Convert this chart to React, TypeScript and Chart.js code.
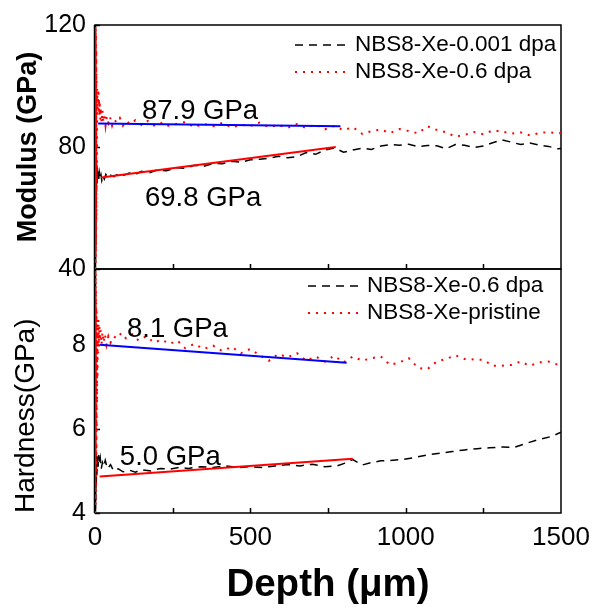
import React, { useEffect, useRef } from "react";
import { Chart, registerables } from "chart.js";

Chart.register(...registerables);

// ---------- tick labels ----------
const depthTicks = [0, 500, 1000, 1500];
const depthMinorTicks = [250, 500, 750, 1000, 1250];
const modulusTicks = [40, 80, 120];
const hardnessTicks = [4, 6, 8];

// ---------- legends / labels ----------
const modulusLegend = ["NBS8-Xe-0.001 dpa", "NBS8-Xe-0.6 dpa"];
const hardnessLegend = ["NBS8-Xe-0.6 dpa", "NBS8-Xe-pristine"];
const fitLabels = ["87.9 GPa", "69.8 GPa", "8.1 GPa", "5.0 GPa"];

// ---------- Modulus: NBS8-Xe-0.001 dpa (black dashed) ----------
const modBlackDepth = [0.5, 1, 1.5, 2, 2.5, 3, 3.5, 4, 5, 6, 7, 8, 9, 10, 12, 14, 16, 19, 22, 26, 30, 35, 40, 50, 60, 75, 90, 110, 130, 150, 175, 200, 230, 260, 290, 320, 350, 380, 410, 440, 470, 500, 530, 560, 590, 620, 650, 680, 710, 740, 770, 800, 830, 860, 890, 920, 950, 980, 1010, 1040, 1070, 1100, 1130, 1160, 1190, 1220, 1250, 1280, 1310, 1340, 1370, 1400, 1430, 1460, 1490, 1500];
const modBlackValue = [40, 62, 42, 70, 48, 76, 55, 78, 66, 74, 68, 73, 70, 72, 69.5, 71.5, 70, 71, 69, 70.5, 69.5, 71, 70, 70.8, 70.3, 71.2, 70.6, 71.5, 71, 72, 71.5, 72.5, 72.2, 73.2, 73, 74, 73.7, 74.6, 74.5, 75.3, 75, 75.8, 76, 76.3, 77, 76.5, 76.8, 78.2, 77.6, 79, 79.7, 78.3, 79, 79.6, 79.2, 80.3, 80.8, 80.6, 80.9, 80.1, 80.5, 80.4, 79.4, 80.8, 80.6, 79.8, 80.3, 81.4, 82.3, 81.6, 80.8, 81.3, 80.6, 80.2, 79.4, 79.5];

// ---------- Modulus: NBS8-Xe-0.6 dpa (red dotted) ----------
const modRedDepth = [0.5, 1, 1.5, 2, 2.5, 3, 3.5, 4, 4.5, 5, 6, 7, 8, 9, 10, 11, 12, 13, 14, 15, 17, 19, 21, 24, 27, 30, 34, 38, 43, 48, 55, 62, 70, 80, 90, 100, 115, 130, 150, 170, 190, 210, 230, 260, 290, 320, 350, 380, 410, 440, 470, 500, 530, 560, 590, 620, 650, 680, 710, 740, 770, 800, 830, 860, 890, 920, 950, 980, 1010, 1040, 1070, 1100, 1130, 1160, 1190, 1220, 1250, 1280, 1310, 1340, 1370, 1400, 1430, 1460, 1490, 1500];
const modRedValue = [40, 121, 42, 119, 44, 117, 48, 112, 56, 104, 70, 99, 92, 98, 94, 99, 91, 96, 90, 95, 89, 93, 88, 92, 88, 91, 87, 90, 88, 90, 87, 89, 88, 89.5, 87, 88.5, 87.5, 88.8, 87.2, 88.5, 87, 88, 86.8, 87.5, 88.2, 86.5, 87.6, 86.8, 87.9, 86.4, 87.3, 86.9, 88, 86.5, 87.2, 86.3, 87.5, 86.2, 87.4, 85.8, 86.9, 85.5, 86.5, 84.3, 85.2, 85.7, 84.6, 85.9, 85.2, 84.5, 86.8, 85.6, 84.8, 83.4, 84, 84.9, 84.2, 85.4, 85.1, 84.4, 84.8, 83.8, 84.6, 84.9, 84.4, 84.6];

// ---------- Modulus fits ----------
const modFitBlueDepth = [10, 790];
const modFitBlueValue = [87.7, 86.8];
const modFitRedDepth = [20, 775];
const modFitRedValue = [70.0, 80.0];

// ---------- Hardness: NBS8-Xe-0.6 dpa (black dashed) ----------
const hardBlackDepth = [0.5, 1, 1.5, 2, 2.5, 3, 4, 5, 6, 8, 10, 12, 14, 17, 20, 24, 28, 33, 40, 50, 60, 75, 90, 110, 130, 150, 180, 210, 240, 270, 300, 340, 380, 420, 460, 500, 540, 580, 620, 660, 700, 740, 780, 810, 830, 860, 890, 920, 950, 990, 1030, 1070, 1110, 1150, 1190, 1230, 1270, 1310, 1350, 1390, 1430, 1470, 1500];
const hardBlackValue = [4, 4.9, 4.1, 5.2, 4.3, 5.4, 4.6, 5.3, 4.9, 5.35, 5.1, 5.38, 5.15, 5.3, 5.05, 5.2, 5.1, 5.25, 5.05, 5.15, 5.0, 5.05, 4.98, 5.02, 4.97, 5.03, 5.0, 5.06, 5.04, 5.08, 5.06, 5.1, 5.08, 5.12, 5.08, 5.1, 5.08, 5.12, 5.15, 5.12, 5.16, 5.1, 5.12, 5.2, 5.27, 5.14, 5.2, 5.24, 5.25, 5.27, 5.32, 5.38, 5.42, 5.46, 5.5, 5.53, 5.55, 5.57, 5.56, 5.66, 5.75, 5.82, 5.92];

// ---------- Hardness: NBS8-Xe-pristine (red dotted) ----------
const hardRedDepth = [0.5, 1, 1.5, 2, 2.5, 3, 3.5, 4, 4.5, 5, 5.5, 6, 6.5, 7, 8, 9, 10, 11, 12, 14, 16, 18, 21, 24, 28, 32, 37, 43, 50, 60, 70, 85, 100, 120, 140, 165, 190, 215, 240, 265, 290, 320, 350, 380, 410, 440, 470, 500, 530, 560, 590, 620, 650, 680, 710, 740, 770, 800, 830, 860, 890, 920, 950, 980, 1010, 1040, 1070, 1100, 1130, 1160, 1190, 1220, 1250, 1280, 1310, 1340, 1370, 1400, 1430, 1460, 1500];
const hardRedValue = [4, 9.8, 4.2, 9.7, 4.5, 9.3, 5.0, 9.0, 5.4, 8.8, 6.0, 8.6, 6.6, 8.5, 7.2, 8.4, 7.8, 8.6, 8.0, 8.45, 8.1, 8.35, 8.0, 8.3, 8.05, 8.25, 8.0, 8.2, 8.05, 8.2, 8.15, 8.28, 8.15, 8.25, 8.1, 8.2, 8.05, 8.12, 8.02, 8.1, 7.92, 8.02, 7.9, 7.98, 7.85, 7.95, 7.8, 7.9, 7.75, 7.62, 7.78, 7.7, 7.8, 7.62, 7.72, 7.6, 7.74, 7.58, 7.72, 7.62, 7.68, 7.72, 7.52, 7.58, 7.68, 7.45, 7.42, 7.6, 7.66, 7.75, 7.66, 7.65, 7.64, 7.5, 7.5, 7.52, 7.6, 7.5, 7.58, 7.6, 7.5];

// ---------- Hardness fits ----------
const hardFitBlueDepth = [15, 810];
const hardFitBlueValue = [8.0, 7.57];
const hardFitRedDepth = [15, 830];
const hardFitRedValue = [4.87, 5.29];

// ---------- layout / style (not data) ----------
const FONT = "'Liberation Sans', Arial, sans-serif";
const W = 592;
const H = 607;
const PLOT_LEFT = 95;
const PLOT_RIGHT = 561;
const PLOT_TOP = 25;
const PLOT_BOTTOM = 513;

const fitLabelPos = [
  { scale: "yM", x: 151, y: 91.8 },
  { scale: "yM", x: 161, y: 63.3 },
  { scale: "yH", x: 103, y: 8.36 },
  { scale: "yH", x: 80, y: 5.31 },
];

const BLACK_DASH = [8, 6];
const RED_DOT = [2, 6];

function pts(xs: number[], ys: number[]) {
  return xs.map((x, i) => ({ x, y: ys[i] }));
}

const panelClip = {
  id: "panelClip",
  beforeDatasetDraw(chart: any, args: any) {
    const s = args.meta.yScale;
    const ca = chart.chartArea;
    chart.ctx.save();
    chart.ctx.beginPath();
    chart.ctx.rect(ca.left, s.top, ca.right - ca.left, s.bottom - s.top);
    chart.ctx.clip();
  },
  afterDatasetDraw(chart: any) {
    chart.ctx.restore();
  },
};

const framePlugin = {
  id: "frame",
  beforeDatasetsDraw(chart: any) {
    const { ctx, chartArea } = chart;
    const xs = chart.scales.x;
    ctx.save();
    ctx.strokeStyle = "#000";
    ctx.lineWidth = 1.5;
    for (const id of ["yM", "yH"]) {
      const s = chart.scales[id];
      ctx.strokeRect(chartArea.left, s.top, chartArea.right - chartArea.left, s.bottom - s.top);
      ctx.beginPath();
      for (const v of depthMinorTicks) {
        const px = Math.round(xs.getPixelForValue(v)) + 0.5;
        ctx.moveTo(px, s.bottom);
        ctx.lineTo(px, s.bottom - 5);
      }
      for (const t of s.ticks) {
        const py = Math.round(s.getPixelForValue(t.value)) + 0.5;
        ctx.moveTo(chartArea.left, py);
        ctx.lineTo(chartArea.left + 5, py);
      }
      ctx.stroke();
    }
    ctx.lineWidth = 2.5;
    ctx.beginPath();
    ctx.moveTo(chartArea.left, chartArea.top);
    ctx.lineTo(chartArea.left, chartArea.bottom);
    ctx.stroke();
    ctx.restore();
  },
};

const overlayPlugin = {
  id: "overlay",
  afterDraw(chart: any) {
    const { ctx, chartArea } = chart;
    const xs = chart.scales.x;
    ctx.save();
    // fit value labels
    ctx.fillStyle = "#000";
    ctx.font = `27.5px ${FONT}`;
    ctx.textAlign = "left";
    ctx.textBaseline = "middle";
    fitLabels.forEach((t, i) => {
      const p = fitLabelPos[i];
      ctx.fillText(t, xs.getPixelForValue(p.x), chart.scales[p.scale].getPixelForValue(p.y));
    });
    // legends
    const drawLegend = (labels: string[], scaleId: string, x0: number, dy: number, len: number) => {
      const s = chart.scales[scaleId];
      const styles = [
        { color: "#000", dash: BLACK_DASH, width: 1.5 },
        { color: "#ff0000", dash: RED_DOT, width: 2 },
      ];
      ctx.font = `22.5px ${FONT}`;
      labels.forEach((lab, i) => {
        const y = s.top + dy + i * 27;
        ctx.save();
        ctx.strokeStyle = styles[i].color;
        ctx.lineWidth = styles[i].width;
        ctx.setLineDash(styles[i].dash);
        ctx.beginPath();
        ctx.moveTo(chartArea.left + x0, y);
        ctx.lineTo(chartArea.left + x0 + len, y);
        ctx.stroke();
        ctx.restore();
        ctx.fillStyle = "#000";
        ctx.fillText(lab, chartArea.left + x0 + len + 7, y);
      });
    };
    drawLegend(modulusLegend, "yM", 200, 20, 53);
    drawLegend(hardnessLegend, "yH", 213, 17, 52);
    ctx.restore();
  },
};

export default function App() {
  const ref = useRef<HTMLCanvasElement | null>(null);

  useEffect(() => {
    document.body.style.margin = "0";
    const canvas = ref.current;
    if (!canvas) return;

    const line = (data: any[], yAxisID: string, color: string, dash: number[], width: number, order: number) => ({
      data,
      yAxisID,
      borderColor: color,
      backgroundColor: color,
      borderDash: dash,
      borderWidth: width,
      pointRadius: 0,
      tension: 0,
      fill: false,
      order,
    });

    const chart = new Chart(canvas, {
      type: "line",
      data: {
        datasets: [
          line(pts(modFitBlueDepth, modFitBlueValue), "yM", "#0000ff", [], 2, 0),
          line(pts(modFitRedDepth, modFitRedValue), "yM", "#ff0000", [], 2, 0),
          line(pts(hardFitBlueDepth, hardFitBlueValue), "yH", "#0000ff", [], 2, 0),
          line(pts(hardFitRedDepth, hardFitRedValue), "yH", "#ff0000", [], 2, 0),
          line(pts(modRedDepth, modRedValue), "yM", "#ff0000", RED_DOT, 2, 1),
          line(pts(modBlackDepth, modBlackValue), "yM", "#000000", BLACK_DASH, 1.5, 2),
          line(pts(hardRedDepth, hardRedValue), "yH", "#ff0000", RED_DOT, 2, 1),
          line(pts(hardBlackDepth, hardBlackValue), "yH", "#000000", BLACK_DASH, 1.5, 2),
        ],
      },
      options: {
        responsive: false,
        animation: false,
        devicePixelRatio: 1,
        layout: { padding: { top: PLOT_TOP, right: W - PLOT_RIGHT, left: 0, bottom: 0 } },
        plugins: { legend: { display: false }, tooltip: { enabled: false } },
        scales: {
          x: {
            type: "linear",
            position: "bottom",
            min: 0,
            max: 1500,
            afterBuildTicks: (s: any) => {
              s.ticks = depthTicks.map((v) => ({ value: v }));
            },
            afterFit: (s: any) => {
              s.height = H - PLOT_BOTTOM;
              s.paddingLeft = 0;
              s.paddingRight = 0;
            },
            grid: { display: false, drawTicks: false },
            border: { display: false },
            ticks: {
              padding: 9,
              color: "#000",
              font: { size: 26, family: FONT },
              callback: (v: any) => String(v),
            },
            title: {
              display: true,
              text: "Depth (μm)",
              color: "#000",
              font: { size: 38.5, weight: "bold", family: FONT, lineHeight: 1.1 },
              padding: { top: 0, bottom: 0 },
            },
          },
          yH: {
            type: "linear",
            position: "left",
            stack: "panels",
            stackWeight: 1,
            min: 4,
            max: 9.8,
            afterBuildTicks: (s: any) => {
              s.ticks = hardnessTicks.map((v) => ({ value: v }));
            },
            afterFit: (s: any) => {
              s.width = PLOT_LEFT;
            },
            grid: { display: false, drawTicks: false },
            border: { display: false },
            ticks: { padding: 9, color: "#000", font: { size: 25, family: FONT } },
            title: {
              display: true,
              text: "Hardness(GPa)",
              align: "start",
              color: "#000",
              font: { size: 28, family: FONT },
              padding: { top: 9, bottom: 0 },
            },
          },
          yM: {
            type: "linear",
            position: "left",
            stack: "panels",
            stackWeight: 1,
            min: 40,
            max: 120,
            afterBuildTicks: (s: any) => {
              s.ticks = modulusTicks.map((v) => ({ value: v }));
            },
            afterFit: (s: any) => {
              s.width = PLOT_LEFT;
            },
            grid: { display: false, drawTicks: false },
            border: { display: false },
            ticks: { padding: 9, color: "#000", font: { size: 25, family: FONT } },
            title: {
              display: true,
              text: "Modulus (GPa)",
              color: "#000",
              font: { size: 27, weight: "bold", family: FONT },
              padding: { top: 12, bottom: 0 },
            },
          },
        },
      } as any,
      plugins: [panelClip, framePlugin, overlayPlugin],
    });

    return () => chart.destroy();
  }, []);

  return <canvas ref={ref} width={W} height={H} style={{ display: "block" }} />;
}
